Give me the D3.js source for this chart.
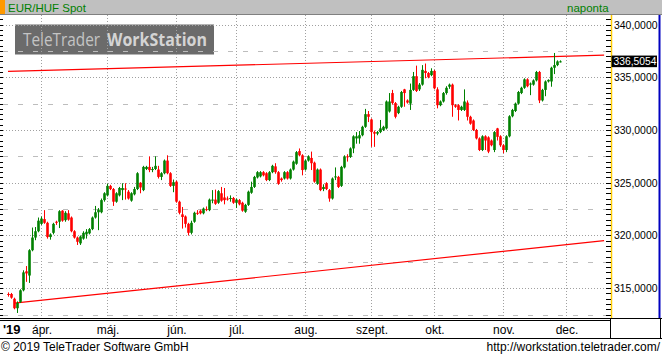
<!DOCTYPE html>
<html><head><meta charset="utf-8">
<script src="https://cdn.jsdelivr.net/npm/d3@7"></script>
<style>
body{margin:0;background:#fff}
svg{display:block}
text{font-family:"Liberation Sans",Arial,sans-serif}
</style>
</head><body>
<svg id="c" width="662" height="356"></svg>
<script>
// ---------- data ----------
const title = "EUR/HUF Spot";
const period = "naponta";
const firstDay = "2019-03-15";
const monthLabels = ["ápr.","máj.","jún.","júl.","aug.","szept.","okt.","nov.","dec."];
const yearLabel = "'19";
const yTicks = [315,320,325,330,335,340];
const lastPrice = 336.5054;
const trendUpper = [[0,335.55],[198.7,337.09]];
const trendLower = [[2,313.58],[198.7,319.51]];

const open = [314.45,314.45,314.00,313.10,313.70,314.80,316.60,316.20,318.60,319.80,
320.40,321.10,321.55,321.20,319.85,320.25,321.30,321.30,322.35,321.45,
322.10,321.70,320.40,319.80,319.25,319.70,320.10,320.20,320.60,321.70,
322.20,322.20,323.35,323.80,324.70,324.40,323.20,323.80,324.30,324.45,
324.15,323.30,323.90,324.40,325.00,324.30,326.30,326.50,326.20,326.30,
326.25,325.55,325.90,327.10,325.90,324.70,325.10,323.20,322.00,321.80,
321.10,320.25,321.30,322.15,322.35,322.10,322.50,322.40,323.35,323.40,
323.10,324.00,323.60,323.50,323.50,323.55,323.10,323.35,323.10,322.25,
322.90,324.05,324.60,325.50,325.60,326.00,325.90,325.25,326.00,326.55,
326.00,325.40,325.40,326.00,325.40,326.25,326.80,328.00,327.60,326.25,
327.10,327.35,326.90,324.90,326.25,324.40,324.95,324.30,323.50,325.50,
325.55,324.70,326.45,327.50,327.45,328.25,329.20,329.20,329.50,330.30,
331.50,331.00,329.80,329.65,329.80,330.00,330.15,331.75,333.50,332.55,
331.60,332.20,333.85,332.80,332.50,333.80,335.10,333.85,334.30,335.60,
335.40,335.20,335.60,333.85,332.35,332.70,333.50,334.10,334.30,332.35,
332.35,331.90,331.90,332.60,331.25,330.90,330.00,329.20,328.10,329.40,
329.30,329.00,328.10,330.15,329.40,328.55,328.10,329.40,331.30,331.80,
332.50,333.50,334.00,334.80,334.30,334.30,334.70,335.50,332.80,333.80,
334.60,334.60,335.90,336.15,336.45];
const high = [314.60,314.55,314.10,313.75,314.90,316.70,317.10,318.70,320.75,320.80,
321.70,321.80,322.40,321.30,320.20,321.20,321.40,322.40,322.40,322.30,
322.40,321.80,320.50,319.90,320.00,320.40,320.60,320.70,321.80,322.80,
322.60,323.50,324.10,324.90,324.80,324.50,324.10,324.60,324.95,324.95,
324.30,324.10,324.60,326.00,325.05,326.60,326.60,327.50,326.50,327.50,
326.60,326.00,327.20,327.60,326.00,325.30,325.20,323.30,322.70,321.90,
321.20,321.40,322.25,322.40,322.45,322.65,322.75,323.50,324.30,324.35,
324.30,324.60,324.50,323.70,323.80,323.65,323.50,323.45,323.20,323.00,
324.25,325.10,325.65,326.10,326.10,326.10,326.00,326.10,326.70,326.85,
326.10,325.50,326.10,326.10,326.35,327.10,328.00,328.25,327.70,327.20,
327.60,327.95,327.00,326.35,326.35,324.85,325.05,324.40,325.50,326.45,
325.65,326.60,327.60,327.70,328.35,329.50,329.80,329.90,330.40,332.00,
331.80,331.10,329.95,329.90,330.95,330.40,332.80,333.50,333.80,332.65,
332.30,333.70,333.90,332.90,334.40,335.50,336.10,334.45,336.15,336.30,
335.50,335.85,335.70,334.05,332.80,333.60,334.15,334.40,334.40,332.45,
332.45,332.30,333.85,332.80,331.35,331.00,330.10,329.30,329.50,329.50,
329.40,329.10,329.90,330.20,329.50,328.65,329.50,331.40,332.00,332.60,
333.70,334.10,334.90,334.90,334.50,334.80,335.60,335.60,333.90,334.70,
334.80,336.00,337.30,336.60,336.60];
const low = [314.20,314.00,313.00,312.65,313.60,314.70,315.60,315.50,318.50,319.55,
320.30,321.00,321.10,319.70,319.60,320.10,321.00,320.70,321.30,321.30,
321.40,320.30,319.70,319.10,319.10,319.60,319.70,320.10,320.50,321.60,
320.50,322.10,323.20,323.70,324.30,322.80,323.10,323.70,323.35,323.40,
323.40,323.20,323.80,324.30,324.00,324.20,326.20,326.00,326.00,326.20,
325.40,325.25,325.80,325.80,324.60,324.10,323.10,322.00,320.65,320.75,
320.00,320.10,321.20,321.95,322.00,322.00,322.30,322.30,323.05,322.90,
323.00,323.20,322.95,323.30,323.20,323.00,322.60,322.85,322.25,322.15,
322.80,323.95,324.50,325.40,325.50,325.60,325.15,325.15,325.90,325.85,
324.80,325.10,325.30,325.30,325.30,326.15,326.70,327.50,325.70,326.15,
327.00,326.20,325.00,324.80,324.20,324.20,324.30,323.20,323.40,325.25,
324.50,324.60,326.35,327.00,327.35,327.80,328.70,328.70,329.40,330.20,
330.75,328.40,328.40,329.50,329.70,329.90,330.05,331.65,332.40,331.10,
331.50,332.10,332.20,332.50,331.90,333.70,333.60,333.70,334.20,334.90,
334.90,335.10,333.85,332.05,332.25,332.60,333.35,333.90,331.25,332.10,
330.90,331.80,331.80,330.90,330.50,329.90,329.10,328.00,328.00,328.10,
327.80,328.45,327.90,329.00,328.40,327.80,327.90,329.30,331.20,331.70,
332.40,333.40,333.90,334.05,333.30,334.20,334.60,332.55,332.70,333.20,
334.50,334.10,335.30,336.05,336.40];
const close = [314.40,314.10,313.10,313.60,314.80,316.50,316.40,318.60,319.80,320.40,
321.40,321.60,321.20,319.85,320.10,321.10,321.20,322.30,321.40,322.15,
321.50,320.40,319.80,319.40,319.90,320.25,320.35,320.60,321.70,322.20,
322.45,323.35,324.00,324.70,324.40,323.20,324.00,324.50,324.50,324.35,
323.50,324.00,324.40,325.90,324.55,326.50,326.50,326.20,326.30,326.60,
325.55,325.90,327.10,325.90,324.70,325.05,323.20,322.15,321.75,321.10,
320.25,321.20,322.15,322.05,322.10,322.55,322.45,323.40,323.40,323.00,
324.20,323.30,323.35,323.45,323.55,323.10,323.40,322.95,322.35,322.90,
324.15,324.60,325.55,326.00,326.00,325.70,325.25,326.00,326.60,326.00,
324.90,325.25,326.00,325.40,326.25,327.00,327.90,327.60,326.20,327.10,
327.50,326.85,325.10,326.25,324.30,324.60,324.40,323.50,325.40,325.60,
324.60,326.50,327.50,327.45,328.25,329.40,329.40,329.50,330.30,331.50,
331.25,329.80,329.65,329.80,330.15,330.30,332.70,332.70,332.55,331.25,
332.20,333.60,333.50,332.60,333.80,335.10,333.70,334.30,335.70,335.40,
335.00,335.60,333.95,332.35,332.70,333.50,334.00,334.30,332.35,332.20,
331.90,332.20,332.70,331.25,330.60,330.00,329.20,328.10,329.40,329.00,
327.95,328.55,329.80,329.35,328.55,328.10,329.40,331.30,331.90,332.50,
333.60,334.00,334.80,334.15,334.40,334.70,335.50,332.80,333.80,334.60,
334.75,335.90,336.15,336.50,336.5054];

// ---------- build ----------
const parse = d3.timeParse("%Y-%m-%d");
const dates = [];
let d = parse(firstDay);
while (dates.length < close.length) {
  const wd = d.getDay();
  if (wd !== 0 && wd !== 6) dates.push(new Date(d));
  d = d3.timeDay.offset(d, 1);
}
const cal = dates.slice();
let e = d3.timeDay.offset(dates[dates.length-1], 1);
while (cal.length < 200) { const wd=e.getDay(); if (wd!==0&&wd!==6) cal.push(new Date(e)); e=d3.timeDay.offset(e,1); }
const monthIdx = [];
for (let i=1;i<cal.length;i++) if (cal[i].getMonth()!==cal[i-1].getMonth()) monthIdx.push(i);

const data = close.map((c,i)=>({i, o:open[i], h:high[i], l:low[i], c}));

const W=662,H=356;
const plotL=3, plotR=610, plotT=15, plotB=318;
const x = d3.scaleLinear().domain([0,184]).range([8,560]);
const y = d3.scaleLinear().domain([315,340]).range([288.2,24.5]);

const svg = d3.select("#c");
svg.append("rect").attr("width",W).attr("height",H).attr("fill","#fff");

// header
svg.append("rect").attr("x",0).attr("y",0).attr("width",W).attr("height",15).attr("fill","#c0c0c0");
svg.append("rect").attr("x",0).attr("y",0).attr("width",5).attr("height",15).attr("fill","#ff9900");
svg.append("line").attr("x1",0).attr("x2",W).attr("y1",14.5).attr("y2",14.5).attr("stroke","#808080");
svg.append("text").attr("x",8).attr("y",11.5).attr("font-size",11.5).attr("fill","#008000").text(title);
svg.append("text").attr("x",567).attr("y",11.5).attr("font-size",11.5).attr("fill","#008000").text(period);

// watermark
svg.append("rect").attr("x",15).attr("y",24.5).attr("width",199).attr("height",30).attr("fill","#6b6b6b");
svg.append("text").attr("x",23).attr("y",45.5).attr("font-size",18).attr("fill","#c4c4c4")
  .attr("textLength",77).attr("lengthAdjust","spacingAndGlyphs")
  .style("font-family","'Open Sans','DejaVu Sans',sans-serif").text("TeleTrader");
svg.append("text").attr("x",107).attr("y",45.5).attr("font-size",18).attr("font-weight","bold").attr("fill","#d4d4d4")
  .attr("textLength",100).attr("lengthAdjust","spacingAndGlyphs")
  .style("font-family","'Open Sans','DejaVu Sans',sans-serif").text("WorkStation");

// grid
const g = svg.append("g");
const minor = d3.range(312.5,340,5);
g.selectAll(".mn").data(minor).join("line")
  .attr("x1",plotL).attr("x2",plotR).attr("y1",v=>Math.round(y(v))+0.5).attr("y2",v=>Math.round(y(v))+0.5)
  .attr("stroke","#bdbdbd").attr("stroke-dasharray","5,10");
g.selectAll(".mj").data(yTicks).join("line")
  .attr("x1",plotL).attr("x2",plotR).attr("y1",v=>Math.round(y(v))+0.5).attr("y2",v=>Math.round(y(v))+0.5)
  .attr("stroke","#a0a0a0").attr("stroke-dasharray","1,2");
g.selectAll(".vg").data(monthIdx.filter(i=>x(i)<plotR)).join("line")
  .attr("x1",i=>Math.round(x(i))+0.5).attr("x2",i=>Math.round(x(i))+0.5)
  .attr("y1",plotT).attr("y2",plotB).attr("stroke","#a0a0a0").attr("stroke-dasharray","1,2");

// left edge ticks
const leftTicks = d3.range(312.5,341,0.5);
svg.selectAll(".lt").data(leftTicks).join("line")
  .attr("x1",0).attr("x2",3).attr("y1",v=>Math.round(y(v))+0.5).attr("y2",v=>Math.round(y(v))+0.5)
  .attr("stroke","#000").attr("shape-rendering","crispEdges")
  .attr("display",v=>y(v)>plotT&&y(v)<plotB?null:"none");

// trend lines
[trendUpper,trendLower].forEach(t=>{
  svg.append("line").attr("x1",x(t[0][0])).attr("y1",y(t[0][1])).attr("x2",x(t[1][0])).attr("y2",y(t[1][1]))
    .attr("stroke","#ff0000").attr("stroke-width",1.2);
});

// candles
const cg = svg.append("g");
const col = dd => dd.c >= dd.o ? "#008000" : "#ff0000";
cg.selectAll(".wk").data(data).join("line")
  .attr("x1",dd=>x(dd.i)+0.5).attr("x2",dd=>x(dd.i)+0.5)
  .attr("y1",dd=>y(dd.h)).attr("y2",dd=>y(dd.l)).attr("stroke",col).attr("stroke-width",1);
cg.selectAll(".bd").data(data).join("rect")
  .attr("x",dd=>x(dd.i)-0.8).attr("width",2.6)
  .attr("y",dd=>y(Math.max(dd.o,dd.c)))
  .attr("height",dd=>Math.max(1,Math.abs(y(dd.o)-y(dd.c))))
  .attr("fill",col);

// right axis panel
svg.append("line").attr("x1",611.5).attr("x2",611.5).attr("y1",plotT).attr("y2",plotB).attr("stroke","#ffcc00").attr("stroke-width",1.5);
svg.append("line").attr("x1",659.5).attr("x2",659.5).attr("y1",plotT).attr("y2",plotB).attr("stroke","#0000c0").attr("stroke-width",2);
const rt = d3.range(312.5,341,0.5).filter(v=>y(v)>plotT+2&&y(v)<plotB);
svg.selectAll(".rt").data(rt).join("line")
  .attr("x1",606).attr("x2",611).attr("y1",v=>Math.round(y(v))+0.5).attr("y2",v=>Math.round(y(v))+0.5)
  .attr("stroke","#000").attr("shape-rendering","crispEdges");
const fmt = v => d3.format(".4f")(v).replace(".",",");
const ax = d3.axisRight(y).tickValues(yTicks).tickSize(0).tickPadding(0).tickFormat(fmt);
const axg = svg.append("g").attr("transform","translate(614,0)").call(ax);
axg.select(".domain").remove();
axg.selectAll("text").attr("font-size",11).attr("fill","#000")
  .attr("textLength",43.5).attr("lengthAdjust","spacingAndGlyphs")
  .style("font-family","'Liberation Sans',Arial,sans-serif");

// last price label
svg.append("rect").attr("x",611.5).attr("y",y(lastPrice)-5.8).attr("width",45.5).attr("height",11.6).attr("fill","#000");
svg.append("text").attr("x",613.5).attr("y",y(lastPrice)).attr("dy","0.36em").attr("font-size",11)
  .attr("textLength",43).attr("lengthAdjust","spacingAndGlyphs").attr("fill","#fff").text(fmt(lastPrice));

// bottom axis panel
svg.append("line").attr("x1",0).attr("x2",W).attr("y1",318.5).attr("y2",318.5).attr("stroke","#000");
svg.append("line").attr("x1",0).attr("x2",610).attr("y1",320.5).attr("y2",320.5).attr("stroke","#000");
svg.append("line").attr("x1",0).attr("x2",W).attr("y1",338.5).attr("y2",338.5).attr("stroke","#000");
svg.append("line").attr("x1",610.5).attr("x2",610.5).attr("y1",318).attr("y2",338.5).attr("stroke","#000");
svg.append("line").attr("x1",660.5).attr("x2",660.5).attr("y1",318).attr("y2",338.5).attr("stroke","#000");
svg.append("text").attr("x",3).attr("y",334).attr("font-size",13).attr("font-weight","bold").text(yearLabel);
svg.selectAll(".ml").data(monthIdx.slice(0,monthLabels.length)).join("text")
  .attr("x",i=>x(i)+1).attr("y",334).attr("text-anchor","middle").attr("font-size",12)
  .text((i,k)=>monthLabels[k]);

// footer
svg.append("text").attr("x",1).attr("y",351).attr("font-size",12).text("© 2019 TeleTrader Software GmbH");
svg.append("text").attr("x",660).attr("y",351).attr("text-anchor","end").attr("font-size",12).text("http://workstation.teletrader.com/");
</script>
</body></html>
